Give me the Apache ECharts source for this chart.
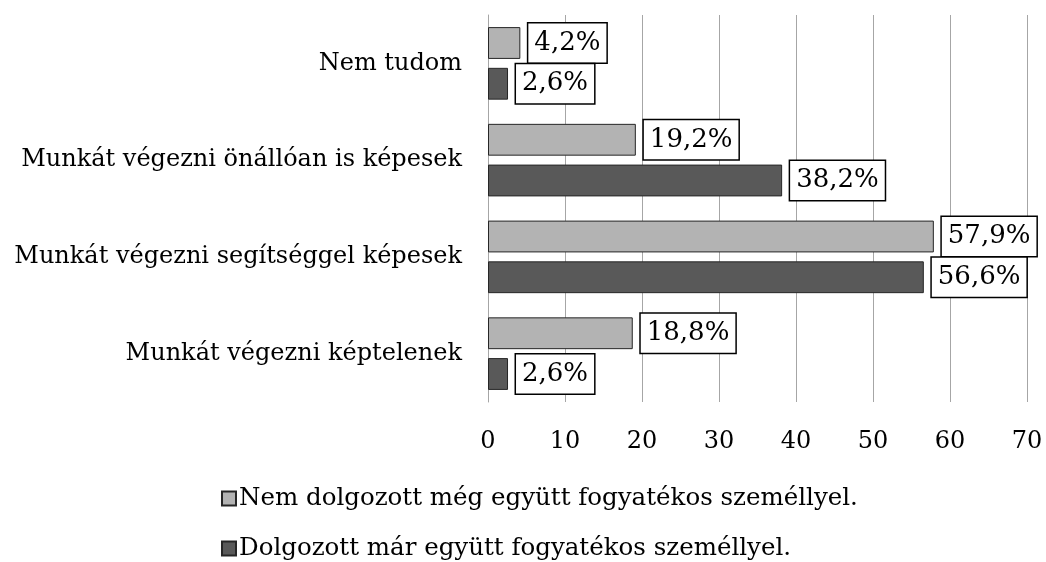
<!DOCTYPE html>
<html><head><meta charset="utf-8">
<script src="https://cdn.jsdelivr.net/npm/echarts@6/dist/echarts.min.js"></script>
<style>html,body{margin:0;padding:0;background:#fff}#c{width:1046px;height:562px}</style>
</head><body><div id="c"></div>
<script>
const categories = ["Munkát végezni képtelenek", "Munkát végezni segítséggel képesek", "Munkát végezni önállóan is képesek", "Nem tudom"];
const seriesNames = ["Nem dolgozott még együtt fogyatékos személlyel.", "Dolgozott már együtt fogyatékos személlyel."];
const notWorked = [18.8, 57.9, 19.2, 4.2];
const worked = [2.6, 56.6, 38.2, 2.6];
const xTicks = [0, 10, 20, 30, 40, 50, 60, 70];

const FONT = "DejaVu Serif";
const lbl = {
  show: true, position: 'right', distance: 8,
  formatter: p => p.value.toFixed(1).replace('.', ',') + '%',
  fontFamily: FONT, fontSize: 26, color: '#000',
  backgroundColor: '#fff', borderColor: '#000', borderWidth: 1.5,
  padding: [8, 6, 5, 6]
};
const legendCommon = {
  orient: 'vertical', left: 216, itemWidth: 14, itemHeight: 14, icon: 'rect',
  textStyle: { fontFamily: FONT, fontSize: 24.5, color: '#000', padding: [0, 0, 0, -2] }
};
const chart = echarts.init(document.getElementById('c'));
chart.setOption({
  animation: false,
  textStyle: { fontFamily: FONT },
  grid: { left: 488, right: 19, top: 15, bottom: 160, containLabel: false },
  xAxis: {
    type: 'value', min: xTicks[0], max: xTicks[xTicks.length - 1], interval: 10,
    axisLine: { show: false }, axisTick: { show: false },
    splitLine: { lineStyle: { color: '#a6a6a6', width: 1 } },
    axisLabel: { fontFamily: FONT, fontSize: 24, color: '#000', margin: 28 }
  },
  yAxis: {
    type: 'category', data: categories,
    axisLine: { show: true, lineStyle: { color: '#a6a6a6', width: 1 } },
    axisTick: { show: false },
    axisLabel: { fontFamily: FONT, fontSize: 24, color: '#000', margin: 26, lineHeight: 30, padding: [8, 0, 0, 0] }
  },
  legend: [
    Object.assign({ top: 481, data: [seriesNames[0]] }, legendCommon),
    Object.assign({ top: 531, data: [seriesNames[1]] }, legendCommon)
  ],
  series: [
    { name: seriesNames[0], type: 'bar', data: notWorked, barGap: '28%', barCategoryGap: '25%',
      itemStyle: { color: '#b3b3b3', borderColor: '#262626', borderWidth: 1 }, label: lbl },
    { name: seriesNames[1], type: 'bar', data: worked, barGap: '28%', barCategoryGap: '25%',
      itemStyle: { color: '#595959', borderColor: '#262626', borderWidth: 1 }, label: lbl }
  ]
});
</script></body></html>
